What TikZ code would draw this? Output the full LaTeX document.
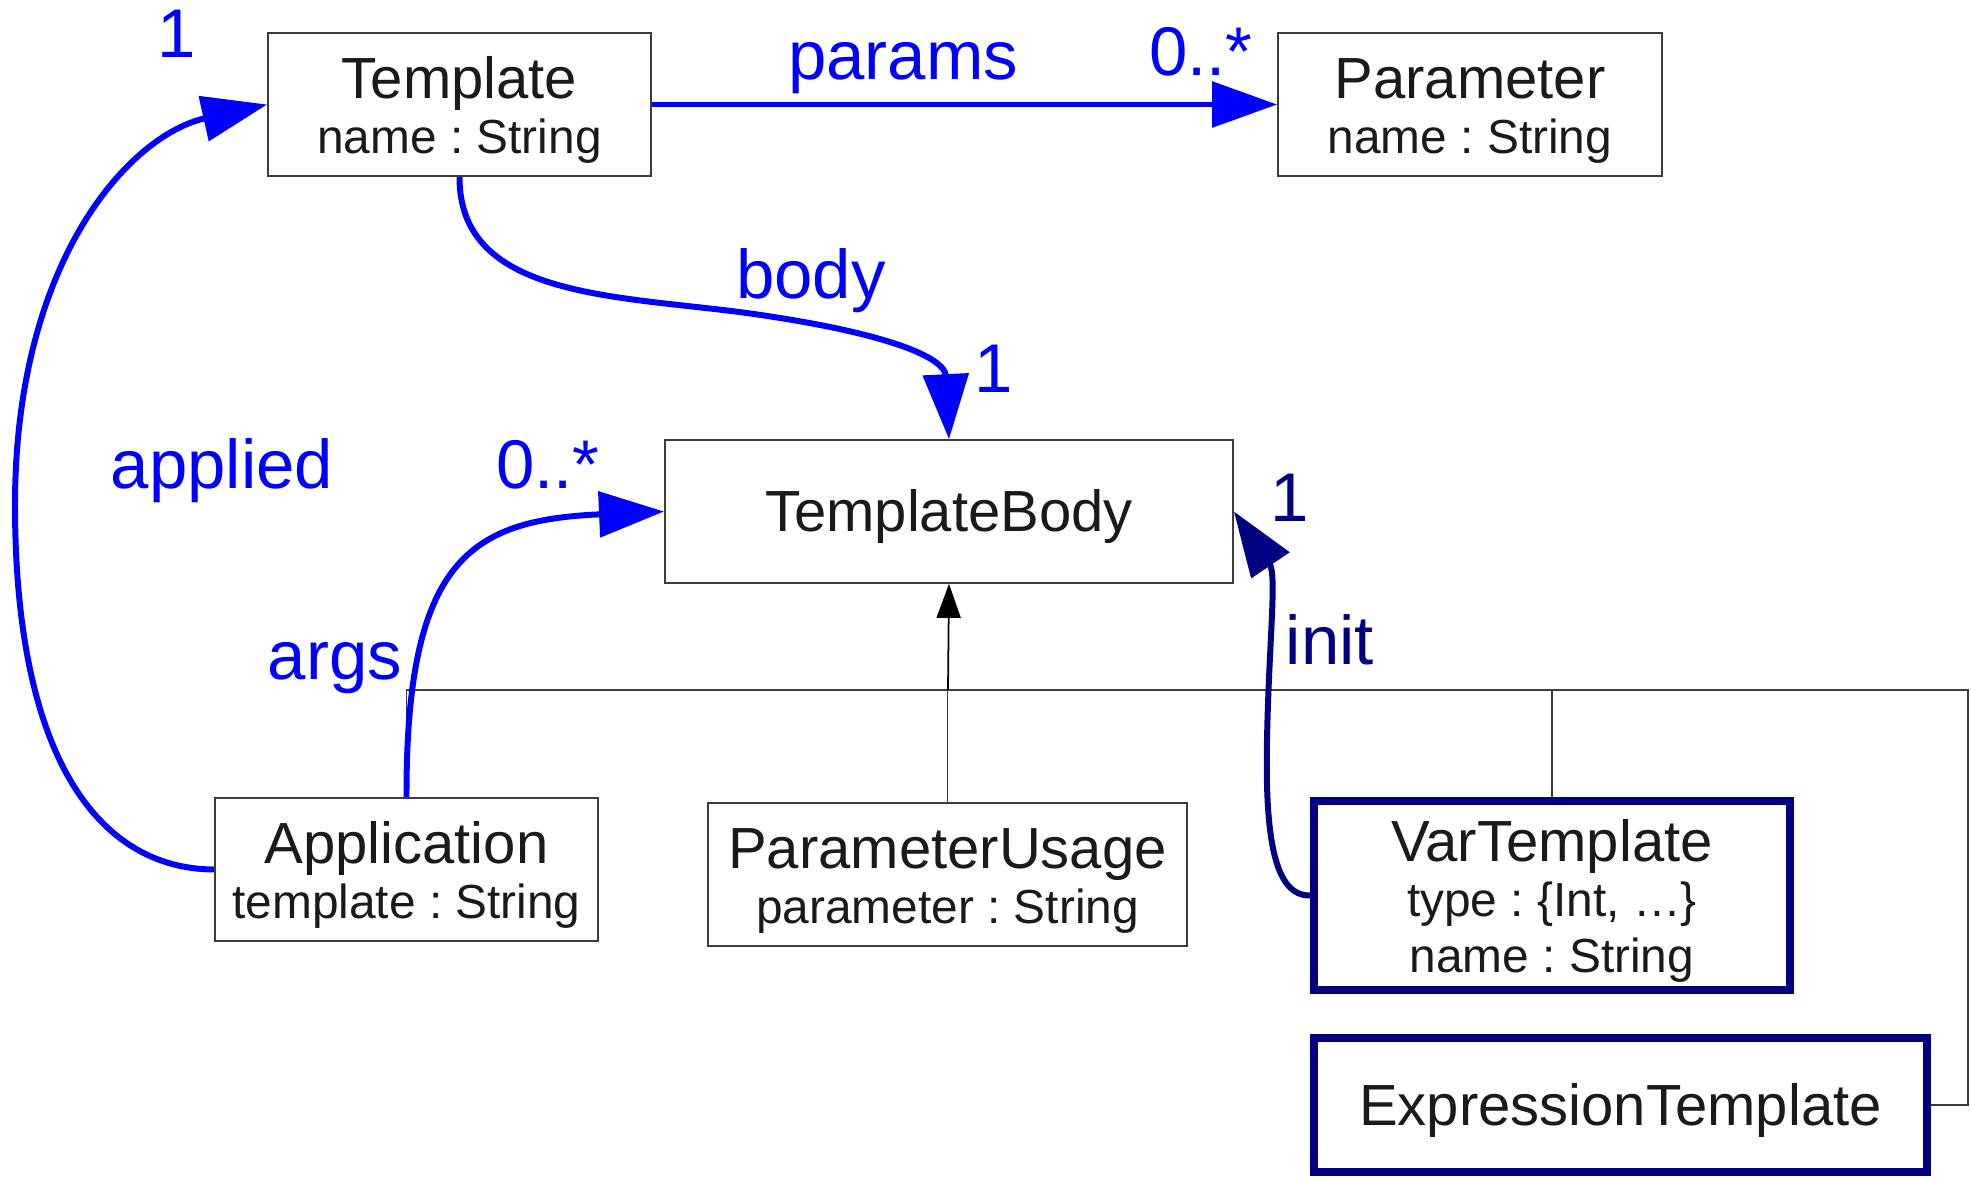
\documentclass[tikz,border=0pt]{standalone}
\usepackage{fontspec}
\setmainfont{Liberation Sans}
\usepackage{tikz}
\usetikzlibrary{arrows.meta}

\definecolor{assocblue}{RGB}{0,0,255}
\definecolor{initnavy}{RGB}{0,0,128}
\definecolor{boxline}{RGB}{60,60,60}
\definecolor{clstext}{RGB}{26,26,26}

\newcommand{\clsname}[1]{{\fontsize{16.5}{15.8}\selectfont\rule{0pt}{15pt}#1}}

\tikzset{
	cls/.style={draw=boxline, line width=0.45pt, text=clstext, align=center,
		inner sep=0pt, minimum height=1.43cm,
		font=\fontsize{13.6}{15.8}\selectfont},
	kcls/.style={cls, draw=initnavy, line width=2.2pt},
	assoc/.style={assocblue, line width=1.7pt, -{Triangle[length=6.5mm,width=4.5mm]}},
	initassoc/.style={assoc, initnavy},
	gen/.style={boxline, line width=0.5pt},
	lbl/.style={anchor=base, text=assocblue, font=\fontsize{19.6}{22}\selectfont, inner sep=0pt},
	initlbl/.style={lbl, text=initnavy}
}

\begin{document}
\frenchspacing
\begin{tikzpicture}[x=0.01cm,y=-0.01cm]
			\useasboundingbox (0,0) rectangle (1971,1178);
			
			\node[cls, minimum width=3.83cm] (tpl) at (459.5,104.5){\clsname{Template}\\name : String};
			\node[cls, minimum width=3.84cm] (par) at (1470,104.5){\clsname{Parameter}\\name : String};
			\node[cls, minimum width=5.68cm] (tb) at (949,511.5){\clsname{TemplateBody}};
			\node[cls, minimum width=3.83cm] (app) at (406.5,869.5){\clsname{Application}\\template : String};
			\node[cls, minimum width=4.79cm] (pu) at (947.5,874.5){\clsname{ParameterUsage}\\parameter : String};
			\node[kcls, minimum width=4.76cm, minimum height=1.89cm] (var) at (1552,895.5){\clsname{VarTemplate}\\type : \{Int, …\}\\name : String};
			\node[kcls, minimum width=6.13cm, minimum height=1.34cm] (expr) at (1620.5,1105){\clsname{ExpressionTemplate}};
			
			% subclasses of TemplateBody
			\coordinate (jn) at (948,690);
			\coordinate (rgt) at (1968,690);
			\draw[gen] (app.north) -- (app.north |- jn) -- (rgt) -- (rgt |- expr.east) -- (expr.east);
			\draw[gen] (pu.north) -- (pu.north |- jn);
			\draw[gen] (var.north) -- (var.north |- jn);
			\draw[gen, black, -{Triangle[length=3.4mm,width=2.4mm]}] (jn) -- (tb.south);
			
			\draw[assoc] (tpl.east) -- (par.west);
			\draw[assoc] (tpl.south) .. controls (459,300) and (620,295) .. (754,314)
			.. controls (900,335) and (945,360) .. (tb.north);
			\draw[assoc] (app.west) .. controls (100,869) and (15,760) .. (15,505)
			.. controls (15,260) and (130,135) .. (tpl.west);
			\draw[assoc] (app.north) .. controls (406,560) and (470,520) .. (tb.west);
			\draw[initassoc] (var.west) .. controls (1275,896) and (1265,840) .. (1267,740)
			.. controls (1269,640) and (1277,575) .. (tb.east);
			
			\node[lbl] (lparams) at (903,79){params};
			\node[lbl] (mparams) at (1201,75){0..*};
			\node[lbl] (lbody) at (811,298){body};
			\node[lbl] (mbody) at (994,392){1};
			\node[lbl] (lapplied) at (222,488){applied};
			\node[lbl] (mapplied) at (177,57){1};
			\node[lbl] (largs) at (335,679){args};
			\node[lbl] (margs) at (548,488){0..*};
			\node[initlbl] (linit) at (1330,664){init};
			\node[initlbl] (minit) at (1290,521){1};
		\end{tikzpicture}
\end{document}
